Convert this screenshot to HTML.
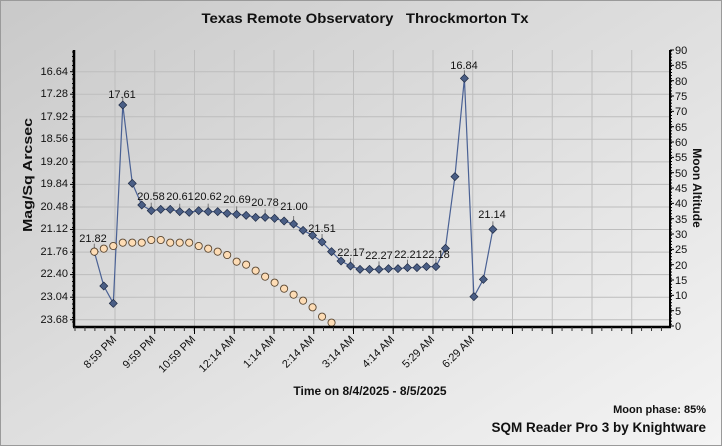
<!DOCTYPE html>
<html><head><meta charset="utf-8"><style>
html,body{margin:0;padding:0;width:722px;height:446px;overflow:hidden}
svg{display:block;font-family:"Liberation Sans",Arial,sans-serif}
</style></head><body>
<svg id="s" width="722" height="446" xmlns="http://www.w3.org/2000/svg">
<defs><linearGradient id="bg" x1="0" y1="0" x2="1" y2="1">
<stop offset="0" stop-color="#c9c9c9"/><stop offset="1" stop-color="#f4f4f4"/></linearGradient></defs>
<rect width="722" height="446" fill="url(#bg)"/>
<rect x="0.5" y="0.5" width="721" height="445" fill="none" stroke="#9a9a9a"/>
<text x="365" y="23" text-anchor="middle" font-size="14" font-weight="bold" fill="#111" textLength="327" lengthAdjust="spacingAndGlyphs">Texas Remote Observatory&#160;&#160; Throckmorton Tx</text>
<g id="grid" stroke="#bdbdbd" stroke-width="1"></g>
<g font-size="11" fill="#111" text-anchor="end">
<text x="68" y="75">16.64</text><text x="68" y="97">17.28</text><text x="68" y="120">17.92</text><text x="68" y="142">18.56</text><text x="68" y="165">19.20</text><text x="68" y="187">19.84</text><text x="68" y="210">20.48</text><text x="68" y="232">21.12</text><text x="68" y="255">21.76</text><text x="68" y="277">22.40</text><text x="68" y="300">23.04</text><text x="68" y="323">23.68</text>
</g>
<g font-size="11" fill="#111">
<text x="675" y="54">90</text><text x="675" y="69">85</text><text x="675" y="85">80</text><text x="675" y="100">75</text><text x="675" y="115">70</text><text x="675" y="131">65</text><text x="675" y="146">60</text><text x="675" y="161">55</text><text x="675" y="177">50</text><text x="675" y="192">45</text><text x="675" y="207">40</text><text x="675" y="223">35</text><text x="675" y="238">30</text><text x="675" y="253">25</text><text x="675" y="269">20</text><text x="675" y="284">15</text><text x="675" y="299">10</text><text x="675" y="315">5</text><text x="675" y="330">0</text>
</g>
<text transform="translate(32,175) rotate(-90)" text-anchor="middle" font-size="13" font-weight="bold" fill="#111" textLength="114" lengthAdjust="spacingAndGlyphs">Mag/Sq Arcsec</text>
<text transform="translate(693,188) rotate(90)" text-anchor="middle" font-size="12" font-weight="bold" fill="#111">Moon Altitude</text>
<g font-size="11" fill="#111" text-anchor="end">
<text transform="translate(117,340) rotate(-45)">8:59 PM</text>
<text transform="translate(156,340) rotate(-45)">9:59 PM</text>
<text transform="translate(196,340) rotate(-45)">10:59 PM</text>
<text transform="translate(236,340) rotate(-45)">12:14 AM</text>
<text transform="translate(276,340) rotate(-45)">1:14 AM</text>
<text transform="translate(315,340) rotate(-45)">2:14 AM</text>
<text transform="translate(355,340) rotate(-45)">3:14 AM</text>
<text transform="translate(395,340) rotate(-45)">4:14 AM</text>
<text transform="translate(435,340) rotate(-45)">5:29 AM</text>
<text transform="translate(475,340) rotate(-45)">6:29 AM</text>
</g>
<text x="370" y="395" text-anchor="middle" font-size="12" font-weight="bold" fill="#111">Time on 8/4/2025 - 8/5/2025</text>
<text x="706" y="413" text-anchor="end" font-size="11" font-weight="bold" fill="#111">Moon phase: 85%</text>
<text x="706" y="432" text-anchor="end" font-size="13.5" font-weight="bold" fill="#111">SQM Reader Pro 3 by Knightware</text>
<g id="series"></g>
<g font-size="11" fill="#111" text-anchor="middle">
<text x="93" y="242">21.82</text>
<text x="122" y="98">17.61</text>
<text x="151" y="200">20.58</text>
<text x="180" y="200">20.61</text>
<text x="208" y="200">20.62</text>
<text x="237" y="203">20.69</text>
<text x="265" y="206">20.78</text>
<text x="294" y="210">21.00</text>
<text x="322" y="232">21.51</text>
<text x="351" y="256">22.17</text>
<text x="379" y="259">22.27</text>
<text x="408" y="258">22.21</text>
<text x="436" y="258">22.18</text>
<text x="464" y="69">16.84</text>
<text x="492" y="218">21.14</text>
</g>
</svg>
<script>
(function(){
var ns="http://www.w3.org/2000/svg";
function el(p,t,a){var e=document.createElementNS(ns,t);for(var k in a)e.setAttribute(k,a[k]);p.appendChild(e);return e;}
var g=document.getElementById('grid');
var ys=[71.7,94.2,116.8,139.3,161.9,184.4,207,229.5,252.1,274.6,297.2,319.7];
ys.forEach(function(y){el(g,'line',{x1:74,x2:670,y1:y,y2:y});});
for(var x=115;x<=671;x+=39.75){el(g,'line',{x1:x,x2:x,y1:50,y2:326});}
var s=document.getElementById('s');
el(s,'line',{x1:74,y1:50,x2:74,y2:327,stroke:'#000','stroke-width':2.5});
el(s,'line',{x1:73,y1:327,x2:671,y2:327,stroke:'#000','stroke-width':2.5});
el(s,'line',{x1:670,y1:50,x2:670,y2:327,stroke:'#000','stroke-width':2});
for(var i=0;i<12;i++)el(s,'line',{x1:70,x2:74,y1:ys[i],y2:ys[i],stroke:'#000'});
for(var y=52;y<326;y+=4.5)el(s,'line',{x1:72,x2:74,y1:y,y2:y,stroke:'#000'});
for(var x=75;x<670;x+=9.94)el(s,'line',{x1:x,x2:x,y1:327,y2:331,stroke:'#333'});
for(var x=115;x<671;x+=39.75)el(s,'line',{x1:x,x2:x,y1:327,y2:334,stroke:'#000'});
for(var v=0;v<=90;v+=5){var yy=326-v*276/90;el(s,'line',{x1:670,x2:674,y1:yy,y2:yy,stroke:'#000'});}
for(var y=51;y<326;y+=3.07)el(s,'line',{x1:670,x2:672,y1:y,y2:y,stroke:'#000'});
var series=document.getElementById('series');
var oy=[665,656,648,638,638,638,630,630,638,638,638,648,656,665,675,695,704,722,740,758,776,794,812,832,860,878];
var by=[665,768,820,225,460,525,542,538,538,545,547,542,545,545,550,553,556,562,562,565,573,582,601,616,636,665,693,708,718,718,718,716,716,713,713,710,710,655,440,145,800,748,598];
function X(i){return 94.3+9.49*i;}
var pts=by.map(function(p,i){return X(i).toFixed(1)+','+(30+p/3).toFixed(1);}).join(' ');
el(series,'polyline',{points:pts,fill:'none',stroke:'#4a6194','stroke-width':1.2});
[0,3,6,9,12,15,18,21,24,27,30,33,36,39,42].forEach(function(i){var y=30+by[i]/3;el(series,'line',{x1:X(i),x2:X(i),y1:y-3,y2:y-8,stroke:'#777'});});
by.forEach(function(p,i){var x=X(i),y=30+p/3;el(series,'polygon',{points:x+','+(y-4)+' '+(x+4)+','+y+' '+x+','+(y+4)+' '+(x-4)+','+y,fill:'#4a5e85',stroke:'#1e2a44','stroke-width':0.7});});
oy.forEach(function(p,i){el(series,'circle',{cx:X(i),cy:30+p/3,r:3.6,fill:'#fddcb5',stroke:'#5a4630','stroke-width':0.9});});
})();
</script>
</body></html>
